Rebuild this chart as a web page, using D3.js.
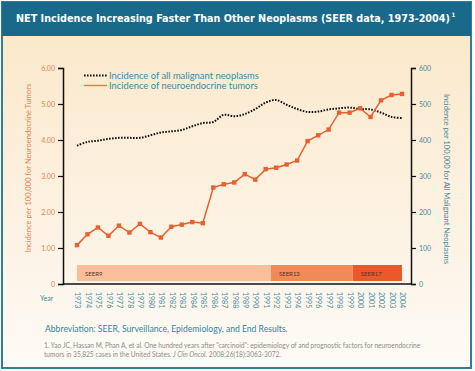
<!DOCTYPE html>
<html lang="en">
<head>
  <meta charset="UTF-8">
  <title>NET Incidence</title>
  <script src="https://d3js.org/d3.v7.min.js"></script>
  <style>
    body { margin: 0; background: #fff; }
  </style>
</head>
<body>
  <div class="canvas"></div>
  <script>
    const years = d3.range(1973, 2005);
    // incidence per 100,000 - neuroendocrine tumors (left axis)
    const netValues = [1.08, 1.38, 1.57, 1.34, 1.62, 1.43, 1.67, 1.44, 1.29, 1.59,
      1.65, 1.72, 1.69, 2.68, 2.77, 2.82, 3.05, 2.90, 3.19, 3.23,
      3.32, 3.43, 3.97, 4.13, 4.29, 4.76, 4.76, 4.88, 4.64, 5.10,
      5.25, 5.28];
    // incidence per 100,000 - all malignant neoplasms (right axis)
    const allValues = [384, 395, 398, 403, 406, 406, 406, 413, 421, 424,
      428, 438, 447, 450, 470, 466, 472, 486, 504, 511,
      498, 486, 478, 479, 485, 488, 490, 486, 485, 476,
      464, 461];
    const leftTicks = [0, 1, 2, 3, 4, 5, 6];
    const rightTicks = [0, 100, 200, 300, 400, 500, 600];
    const seerNames = ['SEER9', 'SEER13', 'SEER17'];
    const seerStart = [1973, 1991.5, 1999.3];
    const seerEnd = [1991.5, 1999.3, 2004];

    const W = 475, H = 371;
    const svg = d3.select('.canvas')
      .append('svg')
      .attr('width', W)
      .attr('height', H)
      .style('display', 'block');

    const defs = svg.append('defs');
    const grad = defs.append('linearGradient')
      .attr('id', 'bg')
      .attr('x1', 0).attr('y1', 0).attr('x2', 0).attr('y2', 1);
    grad.append('stop').attr('offset', '0%').attr('stop-color', '#fbe7c7');
    grad.append('stop').attr('offset', '80%').attr('stop-color', '#fdf6ec');
    grad.append('stop').attr('offset', '100%').attr('stop-color', '#fdfbf7');

    // frame
    svg.append('rect')
      .attr('x', 2).attr('y', 2).attr('width', 469).attr('height', 366)
      .attr('fill', 'url(#bg)')
      .attr('stroke', '#2e7f97').attr('stroke-width', 2);
    svg.append('rect')
      .attr('x', 2).attr('y', 2).attr('width', 469).attr('height', 34)
      .attr('fill', '#19698a');

    // title: shrink font until it fits the band, superscript placed after it
    const title = svg.append('text')
      .attr('x', 16).attr('y', 22)
      .attr('fill', '#fff')
      .style('font-family', '"Liberation Sans Narrow", "DejaVu Sans Condensed", sans-serif')
      .style('font-weight', 'bold')
      .style('font-size', '12.5px')
      .text('NET Incidence Increasing Faster Than Other Neoplasms (SEER data, 1973-2004)');
    const tw = title.node().getComputedTextLength();
    if (tw > 434) title.style('font-size', (12.5 * 434 / tw) + 'px');
    const tEnd = 16 + title.node().getComputedTextLength();
    svg.append('text')
      .attr('x', tEnd + 1.5).attr('y', 17)
      .attr('fill', '#fff')
      .style('font-family', '"DejaVu Sans Condensed", sans-serif')
      .style('font-weight', 'bold')
      .style('font-size', '6px')
      .text('1');

    // scales
    const x = d3.scaleLinear().domain([1973, 2004]).range([77, 402]);
    const yL = d3.scaleLinear().domain([0, 6]).range([284, 68]);
    const yR = d3.scaleLinear().domain([0, 600]).range([284, 68]);
    const axisLeftX = 63, axisRightX = 411;

    // SEER bands
    const seer = svg.append('g');
    const seerColors = ['#f9bf9b', '#f08b58', '#e9592b'];
    seerNames.forEach((name, i) => {
      seer.append('rect')
        .attr('x', x(seerStart[i])).attr('y', 265)
        .attr('width', x(seerEnd[i]) - x(seerStart[i])).attr('height', 16)
        .attr('fill', seerColors[i]);
      seer.append('text')
        .attr('x', x(seerStart[i]) + 8).attr('y', 275.5)
        .attr('fill', '#5a3320')
        .style('font-family', 'Lato, sans-serif')
        .style('font-size', '6px')
        .text(name);
    });

    // left axis
    const gL = svg.append('g')
      .attr('transform', `translate(${axisLeftX},0)`)
      .call(d3.axisLeft(yL).tickValues(leftTicks).tickSize(5).tickPadding(3)
        .tickFormat(d => d === 0 ? '0' : d3.format('.2f')(d)));
    gL.select('.domain').attr('stroke', '#111').attr('stroke-width', 1.5);
    gL.selectAll('.tick line').attr('stroke', '#111').attr('stroke-width', 1.2);
    gL.selectAll('.tick text').attr('fill', '#e08358')
      .style('font-family', 'Lato, sans-serif').style('font-size', '7px');

    // right axis
    const gR = svg.append('g')
      .attr('transform', `translate(${axisRightX},0)`)
      .call(d3.axisRight(yR).tickValues(rightTicks).tickSize(5).tickPadding(3));
    gR.select('.domain').attr('stroke', '#111').attr('stroke-width', 1.5);
    gR.selectAll('.tick line').attr('stroke', '#111').attr('stroke-width', 1.2);
    gR.selectAll('.tick text').attr('fill', '#3d8ca3')
      .style('font-family', 'Lato, sans-serif').style('font-size', '7px');

    // bottom axis
    const gB = svg.append('g')
      .attr('transform', 'translate(0,284)')
      .call(d3.axisBottom(x).tickValues(years).tickSize(0).tickFormat(d3.format('d')));
    gB.select('.domain').remove();
    svg.append('line')
      .attr('x1', axisLeftX).attr('x2', axisRightX)
      .attr('y1', 284).attr('y2', 284)
      .attr('stroke', '#111').attr('stroke-width', 1.5);
    gB.selectAll('.tick text')
      .attr('transform', 'rotate(90)')
      .attr('x', 8).attr('y', 0).attr('dy', '0.32em')
      .attr('text-anchor', 'start')
      .attr('fill', '#3d8ca3')
      .style('font-family', 'Lato, sans-serif').style('font-size', '7px');

    svg.append('text')
      .attr('x', 40).attr('y', 301)
      .attr('fill', '#3d8ca3')
      .style('font-family', 'Lato, sans-serif').style('font-size', '7px')
      .text('Year');

    // axis titles
    svg.append('text')
      .attr('transform', 'translate(31,168) rotate(-90)')
      .attr('text-anchor', 'middle')
      .attr('fill', '#e08358')
      .style('font-family', 'Lato, sans-serif').style('font-size', '7.6px')
      .text('Incidence per 100,000 for Neuroendocrine Tumors');
    svg.append('text')
      .attr('transform', 'translate(444,179) rotate(90)')
      .attr('text-anchor', 'middle')
      .attr('fill', '#3d8ca3')
      .style('font-family', 'Lato, sans-serif').style('font-size', '7.6px')
      .text('Incidence per 100,000 for All Malignant Neoplasms');

    // all malignant neoplasms (dotted)
    const lineAll = d3.line()
      .x((d, i) => x(years[i]))
      .y(d => yR(d))
      .curve(d3.curveCatmullRom);
    svg.append('path')
      .datum(allValues)
      .attr('d', lineAll)
      .attr('fill', 'none')
      .attr('stroke', '#111')
      .attr('stroke-width', 2)
      .attr('stroke-dasharray', '1.6,1.4');

    // neuroendocrine tumors
    const lineNet = d3.line()
      .x((d, i) => x(years[i]))
      .y(d => yL(d));
    svg.append('path')
      .datum(netValues)
      .attr('d', lineNet)
      .attr('fill', 'none')
      .attr('stroke', '#e5622f')
      .attr('stroke-width', 1.5);
    svg.selectAll('.pt')
      .data(netValues)
      .enter()
      .append('rect')
      .attr('class', 'pt')
      .attr('x', (d, i) => x(years[i]) - 2.2)
      .attr('y', d => yL(d) - 2.2)
      .attr('width', 4.4).attr('height', 4.4)
      .attr('fill', '#e5622f');

    // legend
    const leg = svg.append('g');
    leg.append('line')
      .attr('x1', 84).attr('x2', 107).attr('y1', 75.5).attr('y2', 75.5)
      .attr('stroke', '#111').attr('stroke-width', 2).attr('stroke-dasharray', '1.6,1.4');
    leg.append('line')
      .attr('x1', 84).attr('x2', 107).attr('y1', 85.5).attr('y2', 85.5)
      .attr('stroke', '#ef7a4a').attr('stroke-width', 1.5);
    leg.append('text')
      .attr('x', 109).attr('y', 78.8)
      .attr('fill', '#3d8ca3')
      .style('font-family', 'Lato, sans-serif').style('font-size', '9.4px')
      .text('Incidence of all malignant neoplasms');
    leg.append('text')
      .attr('x', 109).attr('y', 88.8)
      .attr('fill', '#3d8ca3')
      .style('font-family', 'Lato, sans-serif').style('font-size', '9.4px')
      .text('Incidence of neuroendocrine tumors');

    // footer
    svg.append('text')
      .attr('x', 45).attr('y', 332)
      .attr('fill', '#2f86a2')
      .style('font-family', 'Lato, sans-serif').style('font-size', '8.6px')
      .text('Abbreviation: SEER, Surveillance, Epidemiology, and End Results.');
    svg.append('text')
      .attr('x', 44).attr('y', 348)
      .attr('fill', '#8c8c8c')
      .style('font-family', 'Lato, sans-serif').style('font-size', '6.6px')
      .text('1. Yao JC, Hassan M, Phan A, et al. One hundred years after "carcinoid": epidemiology of and prognostic factors for neuroendocrine');
    const ref2 = svg.append('text')
      .attr('x', 44).attr('y', 356.5)
      .attr('fill', '#8c8c8c')
      .style('font-family', 'Lato, sans-serif').style('font-size', '6.6px');
    ref2.append('tspan').text('tumors in 35,825 cases in the United States. ');
    ref2.append('tspan').style('font-style', 'italic').text('J Clin Oncol');
    ref2.append('tspan').text('. 2008;26(18):3063-3072.');
  </script>
</body>
</html>
